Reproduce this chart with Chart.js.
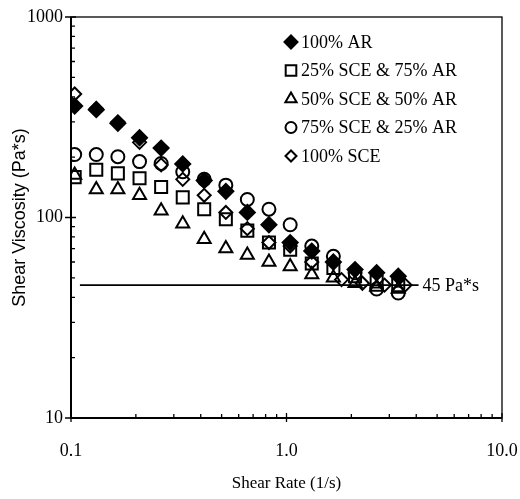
<!DOCTYPE html>
<html>
<head>
<meta charset="utf-8">
<script src="https://cdn.jsdelivr.net/npm/chart.js@4/dist/chart.umd.min.js"></script>
<style>
  html, body { margin: 0; padding: 0; background: #fff; }
  #wrap { width: 520px; height: 499px; position: relative; }
</style>
</head>
<body>
<div id="wrap"><canvas id="chart"></canvas></div>
<script>
// shear rate (1/s) for the measured columns
const shearRate = [0.104, 0.131, 0.165, 0.208, 0.262, 0.330, 0.415, 0.523, 0.658, 0.829, 1.04, 1.31, 1.65, 2.08, 2.62, 3.30];
const sceRate = [0.104, 0.131, 0.165, 0.208, 0.262, 0.330, 0.415, 0.523, 0.658, 0.829, 1.04, 1.31, 1.80, 2.25, 2.85, 3.55];

// shear viscosity (Pa*s)
const ar100 = [360, 345, 295, 250, 222, 185, 153, 135, 106, 92, 75, 68, 60, 55, 53, 51];
const sce25 = [159, 173, 166, 157, 142, 126, 110, 98, 86, 75, 69, 59, 56, 51, 48, 46];
const sce50 = [163, 138, 138, 129, 108, 93, 78, 70, 65, 60, 57, 52, 50, 47, 45, 44];
const sce75 = [206, 206, 201, 190, 186, 169, 155, 145, 123, 110, 92, 72, 64, 53, 44, 42];
const sce100 = [413, 350, 300, 237, 183, 155, 129, 106, 88, 75, 72, 60, 49, 47, 46, 46];

const seriesNames = ['100% AR', '25% SCE & 75% AR', '50% SCE & 50% AR', '75% SCE & 25% AR', '100% SCE'];

// 45 Pa*s reference line
const refRate = [0.11, 4.1];
const refVisc = [46, 46];
const refLabel = '45 Pa*s';

const xTicks = [0.1, 1, 10];
const yTicks = [10, 100, 1000];

function pts(xs, ys) {
    return xs.map((x, i) => ({x: x, y: ys[i]}));
}

const serif = 'Liberation Serif';

const styles = [
    {pointStyle: 'rectRot', radius: 7.5, fill: '#000'},
    {pointStyle: 'rect', radius: 8.5, fill: 'rgba(0,0,0,0)'},
    {pointStyle: 'triangle', radius: 7.5, fill: 'rgba(0,0,0,0)'},
    {pointStyle: 'circle', radius: 6.5, fill: 'rgba(0,0,0,0)'},
    {pointStyle: 'rectRot', radius: 6.5, fill: 'rgba(0,0,0,0)'}
];
const seriesData = [
    pts(shearRate, ar100),
    pts(shearRate, sce25),
    pts(shearRate, sce50),
    pts(shearRate, sce75),
    pts(sceRate, sce100)
];

const datasets = seriesNames.map((name, i) => ({
    label: name,
    data: seriesData[i],
    showLine: false,
    pointStyle: styles[i].pointStyle,
    pointRadius: styles[i].radius,
    pointBackgroundColor: styles[i].fill,
    pointBorderColor: '#000',
    pointBorderWidth: 2
}));
datasets.push({
    label: 'ref',
    data: pts(refRate, refVisc),
    showLine: true,
    borderColor: '#000',
    borderWidth: 1.6,
    pointRadius: 0
});

// axes box, log tick marks, legend and line label
const decorPlugin = {
    id: 'decor',
    afterDraw(chart) {
        const ctx = chart.ctx;
        const a = chart.chartArea;
        const xs = chart.scales.x;
        const ys = chart.scales.y;
        ctx.save();
        ctx.strokeStyle = '#000';

        ctx.lineWidth = 1.3;
        ctx.strokeRect(a.left, a.top, a.right - a.left, a.bottom - a.top);
        ctx.lineWidth = 2;
        ctx.beginPath();
        ctx.moveTo(a.left, a.top);
        ctx.lineTo(a.left, a.bottom);
        ctx.lineTo(a.right, a.bottom);
        ctx.stroke();

        ctx.lineWidth = 1.3;
        ctx.beginPath();
        [10, 100].forEach(d => {
            for (let k = 2; k <= 9; k++) {
                const py = ys.getPixelForValue(d * k);
                ctx.moveTo(a.left, py);
                ctx.lineTo(a.left + 4, py);
            }
        });
        yTicks.forEach(v => {
            const py = ys.getPixelForValue(v);
            ctx.moveTo(a.left - 6, py);
            ctx.lineTo(a.left + 5, py);
        });
        [0.1, 1].forEach(d => {
            for (let k = 2; k <= 9; k++) {
                const px = xs.getPixelForValue(d * k);
                ctx.moveTo(px, a.bottom);
                ctx.lineTo(px, a.bottom - 4);
            }
        });
        xTicks.forEach(v => {
            const px = xs.getPixelForValue(v);
            ctx.moveTo(px, a.bottom + 4);
            ctx.lineTo(px, a.bottom - 5);
        });
        ctx.stroke();

        // legend
        ctx.font = '18px "' + serif + '"';
        ctx.textBaseline = 'middle';
        ctx.textAlign = 'left';
        ctx.fillStyle = '#000';
        seriesNames.forEach((name, i) => {
            const ly = 42 + i * 28.5;
            ctx.fillStyle = styles[i].fill;
            ctx.lineWidth = 2;
            Chart.helpers.drawPoint(ctx, {
                pointStyle: styles[i].pointStyle,
                radius: styles[i].radius - 1,
                rotation: 0,
                borderWidth: 2
            }, 291, ly);
            ctx.fillStyle = '#000';
            ctx.fillText(name, 301, ly + 1);
        });

        const lx = xs.getPixelForValue(refRate[1]);
        const lyy = ys.getPixelForValue(refVisc[1]);
        ctx.fillText(refLabel, lx + 4, lyy + 1);
        ctx.restore();
    }
};

new Chart(document.getElementById('chart'), {
    type: 'scatter',
    data: { datasets: datasets },
    options: {
        responsive: true,
        maintainAspectRatio: false,
        animation: false,
        layout: { padding: { left: 0, right: 18, top: 17, bottom: 0 } },
        plugins: {
            legend: { display: false },
            tooltip: { enabled: false }
        },
        scales: {
            x: {
                type: 'logarithmic',
                min: 0.1,
                max: 10,
                afterBuildTicks: s => { s.ticks = xTicks.map(v => ({value: v})); },
                afterFit: s => { s.height = 81; s.paddingLeft = 0; s.paddingRight = 0; },
                grid: { display: false, drawTicks: false },
                border: { display: false },
                ticks: {
                    color: '#000',
                    padding: 22,
                    maxRotation: 0,
                    autoSkip: false,
                    font: { family: serif, size: 18 },
                    callback: v => Number(v).toFixed(1)
                },
                title: {
                    display: true,
                    text: 'Shear Rate (1/s)',
                    color: '#000',
                    padding: { bottom: 5, top: 0 },
                    font: { family: serif, size: 17 }
                }
            },
            y: {
                type: 'logarithmic',
                min: 10,
                max: 1000,
                afterBuildTicks: s => { s.ticks = yTicks.map(v => ({value: v})); },
                afterFit: s => { s.width = 71; s.paddingTop = 0; s.paddingBottom = 0; },
                grid: { display: false, drawTicks: false },
                border: { display: false },
                ticks: {
                    color: '#000',
                    padding: 8,
                    autoSkip: false,
                    font: { family: serif, size: 18 },
                    callback: v => String(v)
                },
                title: {
                    display: true,
                    text: 'Shear Viscosity (Pa*s)',
                    color: '#000',
                    padding: { top: 9, bottom: 0 },
                    font: { family: 'Liberation Sans', size: 18 }
                }
            }
        }
    },
    plugins: [decorPlugin]
});
</script>
</body>
</html>
